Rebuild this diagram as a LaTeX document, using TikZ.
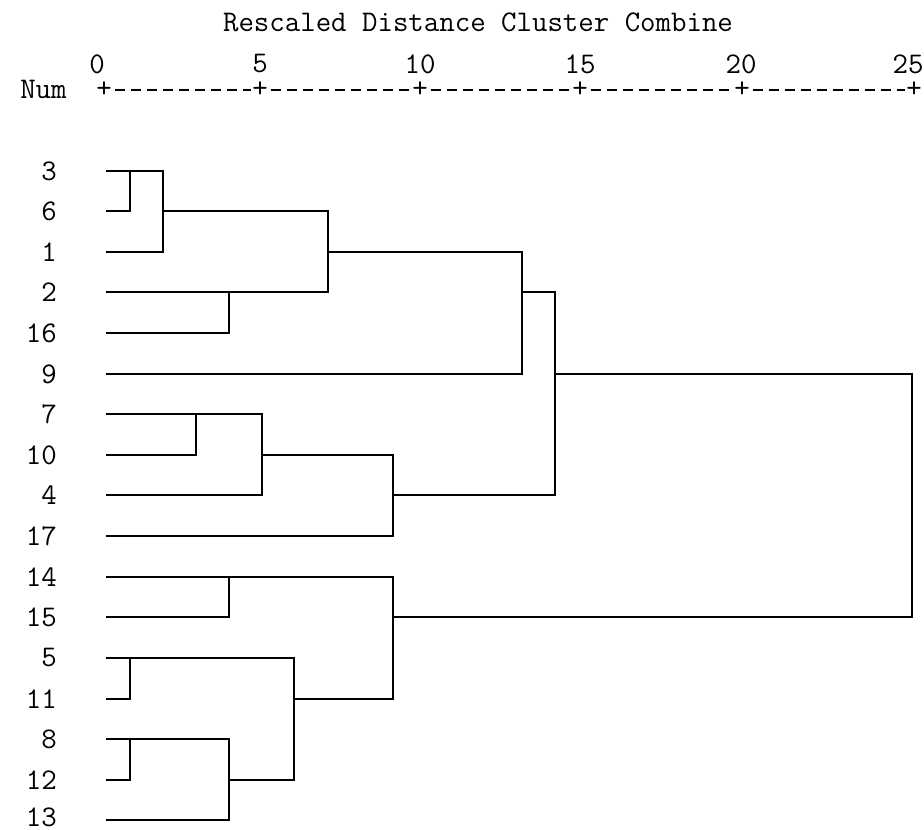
\documentclass[tikz,border=0pt]{standalone}
\usepackage{fontspec}
\begin{document}
\begin{tikzpicture}[x=0.75pt,y=-0.75pt,
  txt/.style={font=\ttfamily\fontsize{22.5}{24}\selectfont, inner sep=0pt},
  lbl/.style={txt, anchor=east},
  tick/.style={txt},
  den/.style={line width=2pt, line join=miter},
  axisdash/.style={line width=1.4pt, dash pattern=on 7.5pt off 4.5pt}]
\useasboundingbox (0,0) rectangle (924,830);
% title
\node[txt] (title) at (478,22) {Rescaled Distance Cluster Combine};
% axis numbers
\node[txt] (n0) at (97,64) {0};
\node[txt] (n5) at (260,64) {5};
\node[txt] (n10) at (420,64) {10};
\node[txt] (n15) at (580,64) {15};
\node[txt] (n20) at (741,64) {20};
\node[txt] (n25) at (908,64) {25};
\node[txt, anchor=west] (num) at (20,89) {Num};
% axis ticks
\node[tick] (t0) at (104,90) {+};
\node[tick] (t1) at (260,90) {+};
\node[tick] (t2) at (420,90) {+};
\node[tick] (t3) at (580,90) {+};
\node[tick] (t4) at (742,90) {+};
\node[tick] (t5) at (914,90) {+};
\foreach \a/\b in {t0/t1,t1/t2,t2/t3,t3/t4,t4/t5}
  \draw[axisdash] ([xshift=2pt]\a.east) -- ([xshift=-1pt]\b.west);
% row labels
\foreach \n/\y in {3/171,6/211,1/252,2/292,16/333,9/374,7/414,10/455,4/495,17/536,14/577,15/617,5/658,11/699,8/739,12/780,13/817}
  \node[lbl] (r\n) at (57,\y) {\n};
% leaf anchors
\foreach \n/\y in {3/171,6/211,1/252,2/292,16/333,9/374,7/414,10/455,4/495,17/536,14/577,15/617,5/658,11/699,8/739,12/780,13/820}
  \coordinate (c\n) at (106,\y);
% upper cluster
\draw[den] (c3) -- (163,171) -- (163,252) -- (c1);
\draw[den] (c6) -- (130,211) -- (130,171);
\draw[den] (163,211) -- (328,211) -- (328,292) -- (c2);
\draw[den] (c16) -- (229,333) -- (229,292);
\draw[den] (328,252) -- (522,252) -- (522,374) -- (c9);
\draw[den] (522,292) -- (555,292) -- (555,495) -- (393,495);
\draw[den] (c7) -- (262,414) -- (262,495) -- (c4);
\draw[den] (c10) -- (196,455) -- (196,414);
\draw[den] (262,455) -- (393,455) -- (393,536) -- (c17);
% root
\draw[den] (555,374) -- (912,374) -- (912,617) -- (393,617);
% lower cluster
\draw[den] (c14) -- (393,577) -- (393,699) -- (294,699);
\draw[den] (c15) -- (229,617) -- (229,577);
\draw[den] (c5) -- (294,658) -- (294,780) -- (229,780);
\draw[den] (c11) -- (130,699) -- (130,658);
\draw[den] (c8) -- (229,739) -- (229,820) -- (c13);
\draw[den] (c12) -- (130,780) -- (130,739);
\end{tikzpicture}
\end{document}
